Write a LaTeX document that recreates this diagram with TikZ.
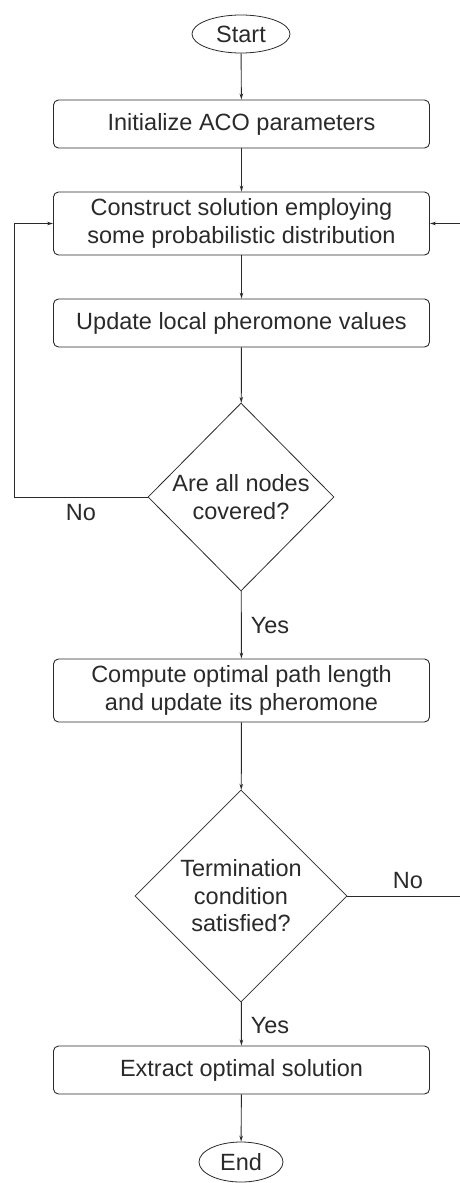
\documentclass[tikz,border=0pt]{standalone}
\usepackage{fontspec}
\setmainfont{Liberation Sans}
\usetikzlibrary{shapes.geometric,arrows.meta}
\definecolor{ink}{HTML}{2A2A2A}
\tikzset{
  every node/.style={text=ink, font=\fontsize{23.5}{27.5}\selectfont},
  procbox/.style={draw=ink, line width=0.9pt, rounded corners=5pt, minimum width=376pt, inner sep=0pt, align=center},
  terminal/.style={draw=ink, line width=0.8pt, ellipse, inner sep=0pt},
  decision/.style={draw=ink, line width=0.8pt, diamond, inner sep=0pt, aspect=1, align=center},
  flow/.style={draw=ink, line width=0.9pt, -{Stealth[length=6pt,width=3.5pt]}},
  plain/.style={draw=ink, line width=0.9pt},
}
\begin{document}
\begin{tikzpicture}[x=1pt,y=-1pt]
\useasboundingbox (0,0) rectangle (460,1183);

\node[terminal, minimum width=98pt, minimum height=38pt] (start) at (241,34) {Start};
\node[procbox, minimum height=48pt] (init) at (241.5,124) {Initialize ACO parameters};
\node[procbox, minimum height=63pt] (cons) at (241.5,223.5) {Construct solution employing\\some probabilistic distribution};
\node[procbox, minimum height=48pt] (upd) at (241.5,323) {Update local pheromone values};
\node[decision, minimum width=186pt, minimum height=188pt] (cov) at (241,497) {Are all nodes\\covered?};
\node[procbox, minimum height=63pt] (comp) at (241.5,690.5) {Compute optimal path length\\and update its pheromone};
\node[decision, minimum width=212pt, minimum height=212pt] (term) at (241,896) {Termination\\condition\\satisfied?};
\node[procbox, minimum height=48pt] (ext) at (241.5,1070) {Extract optimal solution};
\node[terminal, minimum width=84pt, minimum height=40pt] (end) at (241,1162) {End};

\node (no1) at (81,513) {No};
\node (yes1) at (270,626) {Yes};
\node (no2) at (408,881) {No};
\node (yes2) at (270,1026) {Yes};

\coordinate (lft) at (14,497);
\coordinate (rgtlow) at (460,896);
\coordinate (rgtup) at (460,223.5);

\draw[flow] (start) -- (init);
\draw[flow] (init) -- (cons);
\draw[flow] (cons) -- (upd);
\draw[flow] (upd) -- (cov);
\draw[flow] (cov) -- (comp);
\draw[flow] (comp) -- (term);
\draw[flow] (term) -- (ext);
\draw[flow] (ext) -- (end);

\draw[flow] (cov.west) -- (lft) |- (cons.west);
\draw[plain] (term.east) -- (rgtlow);
\draw[flow] (rgtup) -- (cons.east);
\end{tikzpicture}
\end{document}
